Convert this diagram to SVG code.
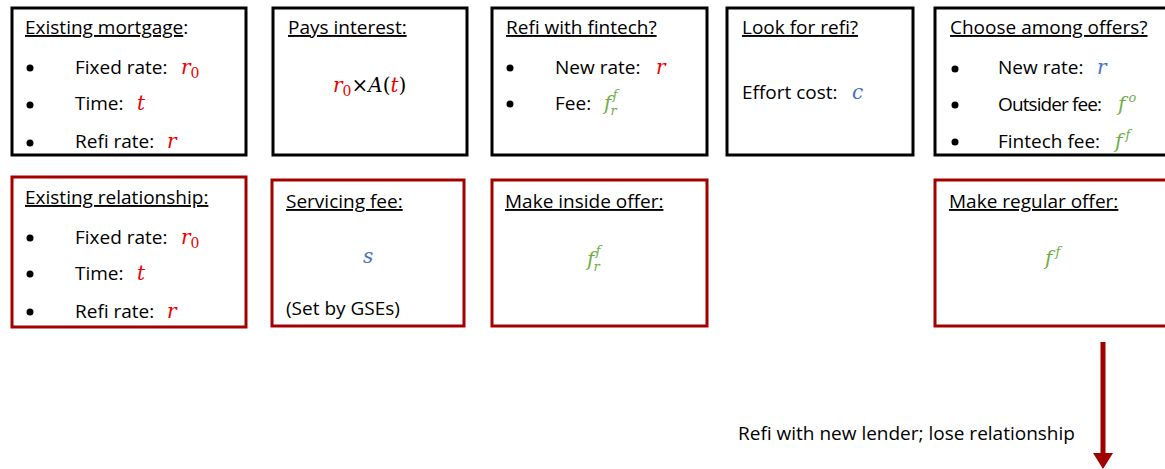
<svg xmlns="http://www.w3.org/2000/svg" width="1165" height="469" viewBox="0 0 1165 469">
  <defs>
    <style>
      .box { fill: #ffffff; stroke-width: 3; }
      .blk { stroke: #000000; }
      .dred { stroke: #A30000; }
      .t { font-family: "Open Sans", "Liberation Sans", sans-serif; font-size: 19px; fill: #000000; }
      .ul { text-decoration: underline; }
      .m { font-family: "DejaVu Serif", "Liberation Serif", serif; font-style: italic; font-size: 20px; }
      .sub { font-style: normal; font-size: 14px; }
      .ss { font-size: 13px; }
      .red { fill: #F00000; }
      .blue { fill: #4472C4; }
      .green { fill: #70AD47; }
      .dot { fill: #000000; }
    </style>
    <marker id="arrowhead" markerWidth="4" markerHeight="4" refX="0" refY="2" orient="auto" markerUnits="strokeWidth">
      <path d="M0,0 L3.2,2 L0,4 Z" fill="#A30000"/>
    </marker>
  </defs>

  <rect width="1165" height="469" fill="#ffffff"/>

  <!-- top row: borrower side -->
  <g id="existing-mortgage">
    <rect class="box blk" x="12" y="8" width="234" height="147"/>
    <text class="t" x="25" y="34"><tspan class="ul">Existing mortgage</tspan>:</text>
    <circle class="dot" cx="30" cy="68" r="3.5"/>
    <circle class="dot" cx="30" cy="105" r="3.5"/>
    <circle class="dot" cx="30" cy="143" r="3.5"/>
    <text class="t" x="75" y="74">Fixed rate:</text>
    <text class="m red" x="181" y="74">r<tspan class="sub" dy="4">0</tspan></text>
    <text class="t" x="75" y="110">Time:</text>
    <text class="m red" x="137" y="110">t</text>
    <text class="t" x="75" y="148">Refi rate:</text>
    <text class="m red" x="167" y="148">r</text>
  </g>

  <g id="pays-interest">
    <rect class="box blk" x="273" y="8" width="194" height="147"/>
    <text class="t ul" x="288" y="34">Pays interest:</text>
    <text class="m" x="333" y="92"><tspan class="red">r</tspan><tspan class="sub red" dy="4">0</tspan><tspan font-style="normal" dy="-4">×</tspan><tspan>A</tspan><tspan font-style="normal">(</tspan><tspan class="red">t</tspan><tspan font-style="normal">)</tspan></text>
  </g>

  <g id="refi-fintech">
    <rect class="box blk" x="492" y="8" width="215" height="147"/>
    <text class="t ul" x="506" y="34">Refi with fintech?</text>
    <circle class="dot" cx="510" cy="68" r="3.5"/>
    <circle class="dot" cx="510" cy="104" r="3.5"/>
    <text class="t" x="555" y="74">New rate:</text>
    <text class="m red" x="656" y="74">r</text>
    <text class="t" x="555" y="110">Fee:</text>
    <text class="m green" x="604" y="110">f<tspan class="ss" dx="-1" dy="5">r</tspan><tspan class="ss" dx="-4" dy="-16">f</tspan></text>
  </g>

  <g id="look-for-refi">
    <rect class="box blk" x="727" y="8" width="186" height="147"/>
    <text class="t ul" x="742" y="34">Look for refi?</text>
    <text class="t" x="742" y="99">Effort cost:</text>
    <text class="m blue" x="852" y="99">c</text>
  </g>

  <g id="choose-offers">
    <rect class="box blk" x="935" y="8" width="245" height="147"/>
    <text class="t ul" x="950" y="34">Choose among offers?</text>
    <circle class="dot" cx="955" cy="69" r="3.5"/>
    <circle class="dot" cx="955" cy="105" r="3.5"/>
    <circle class="dot" cx="955" cy="142" r="3.5"/>
    <text class="t" x="998" y="74">New rate:</text>
    <text class="m blue" x="1097" y="74">r</text>
    <text class="t" x="998" y="111" textLength="104" lengthAdjust="spacing">Outsider fee:</text>
    <text class="m green" x="1118" y="111">f<tspan class="ss" dx="3" dy="-9">o</tspan></text>
    <text class="t" x="998" y="148">Fintech fee:</text>
    <text class="m green" x="1115" y="148">f<tspan class="ss" dx="3" dy="-9">f</tspan></text>
  </g>

  <!-- bottom row: lender side -->
  <g id="existing-relationship">
    <rect class="box dred" x="12" y="177" width="234" height="150"/>
    <text class="t ul" x="25" y="204">Existing relationship:</text>
    <circle class="dot" cx="30" cy="238" r="3.5"/>
    <circle class="dot" cx="30" cy="274" r="3.5"/>
    <circle class="dot" cx="30" cy="312" r="3.5"/>
    <text class="t" x="75" y="244">Fixed rate:</text>
    <text class="m red" x="181" y="244">r<tspan class="sub" dy="4">0</tspan></text>
    <text class="t" x="75" y="280">Time:</text>
    <text class="m red" x="137" y="280">t</text>
    <text class="t" x="75" y="318">Refi rate:</text>
    <text class="m red" x="167" y="318">r</text>
  </g>

  <g id="servicing-fee">
    <rect class="box dred" x="272" y="180" width="192" height="146"/>
    <text class="t ul" x="286" y="208">Servicing fee:</text>
    <text class="m blue" x="363" y="263">s</text>
    <text class="t" x="286" y="315">(Set by GSEs)</text>
  </g>

  <g id="inside-offer">
    <rect class="box dred" x="492" y="180" width="215" height="146"/>
    <text class="t ul" x="505" y="208">Make inside offer:</text>
    <text class="m green" x="587" y="266">f<tspan class="ss" dx="-1" dy="5">r</tspan><tspan class="ss" dx="-4" dy="-16">f</tspan></text>
  </g>

  <g id="regular-offer">
    <rect class="box dred" x="935" y="180" width="245" height="146"/>
    <text class="t ul" x="949" y="208">Make regular offer:</text>
    <text class="m green" x="1045" y="265">f<tspan class="ss" dx="3" dy="-9">f</tspan></text>
  </g>

  <!-- connectors -->
  <g id="connectors">
    <line x1="1103" y1="342" x2="1103" y2="453" stroke="#A30000" stroke-width="5" marker-end="url(#arrowhead)"/>
    <text class="t" x="738" y="440">Refi with new lender; lose relationship</text>
  </g>
</svg>
